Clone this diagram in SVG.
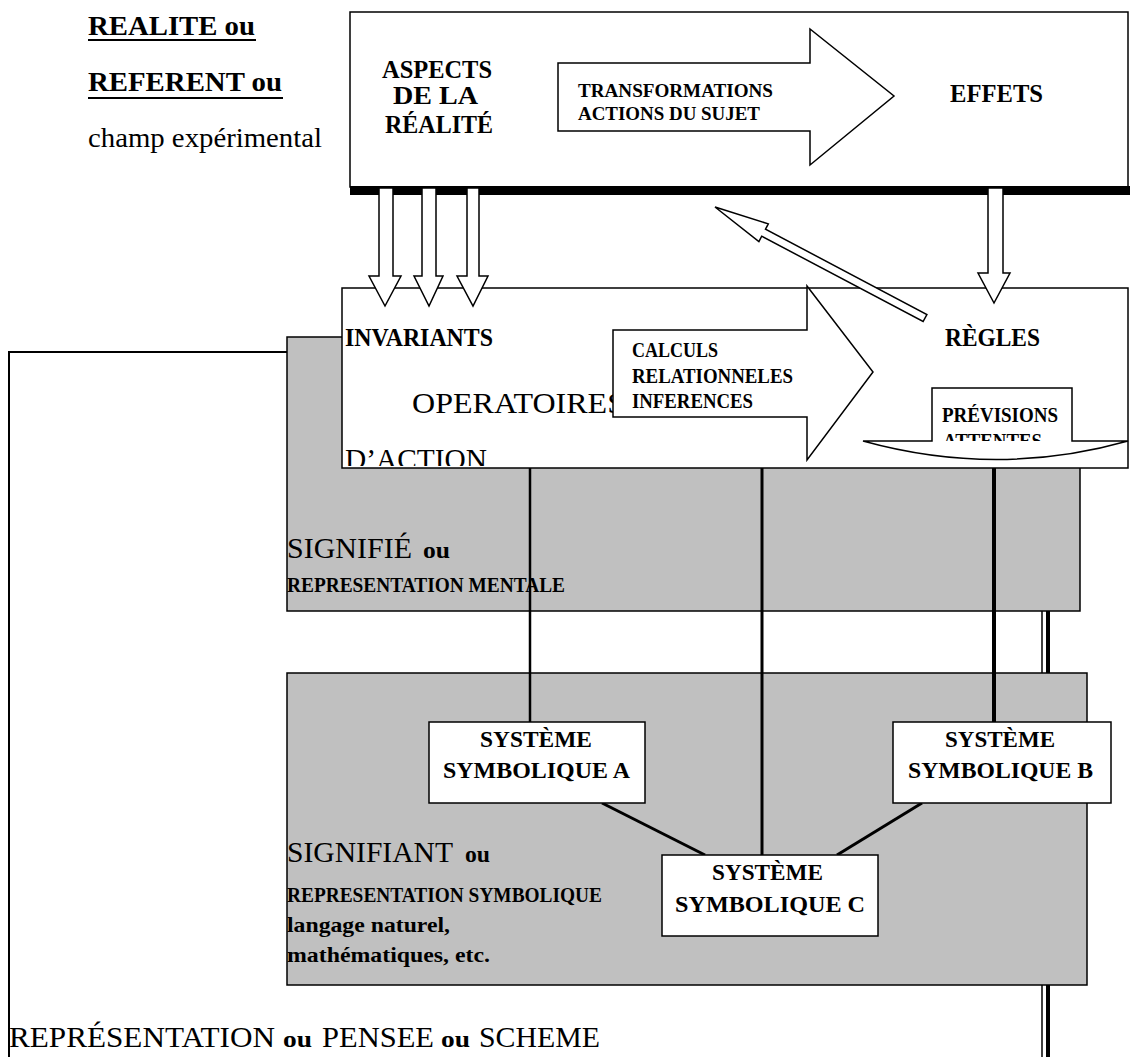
<svg xmlns="http://www.w3.org/2000/svg" width="1131" height="1057" viewBox="0 0 1131 1057">
<style>
text{font-family:"Liberation Serif","Times New Roman",serif;fill:#000}
.b{font-weight:bold}
.box{fill:#fff;stroke:#000;stroke-width:1.5}
.gray{fill:#c0c0c0;stroke:#000;stroke-width:1.5}
.arr{fill:#fff;stroke:#000;stroke-width:1.5;stroke-linejoin:miter}
.ln{stroke:#000;fill:none}
</style>
<defs>
<clipPath id="clipMid"><rect x="342" y="288" width="786" height="178"/></clipPath>
<clipPath id="clipPrev"><rect x="860" y="385" width="270" height="56"/></clipPath>
</defs>
<rect width="1131" height="1057" fill="#fff"/>

<g id="referent-label">
<text class="b" x="88" y="35" font-size="28" textLength="167" lengthAdjust="spacingAndGlyphs">REALITE ou</text>
<line class="ln" x1="88" y1="40" x2="256" y2="40" stroke-width="2"/>
<text class="b" x="88" y="91" font-size="28" textLength="194" lengthAdjust="spacingAndGlyphs">REFERENT ou</text>
<line class="ln" x1="88" y1="98" x2="283" y2="98" stroke-width="2"/>
<text x="88" y="147" font-size="27" textLength="234" lengthAdjust="spacingAndGlyphs">champ expérimental</text>
</g>

<g id="connector-left">
<polyline class="ln" points="287,352 9,352 9,1057" stroke-width="2"/>
</g>

<g id="double-line">
<line class="ln" x1="1042" y1="468" x2="1042" y2="1057" stroke-width="1.5"/>
<line class="ln" x1="1048" y1="468" x2="1048" y2="1057" stroke-width="4"/>
</g>

<g id="realite-box">
<rect class="box" x="350" y="12" width="778" height="175"/>
<rect x="350" y="186" width="780" height="9" fill="#000"/>
<text class="b" x="382" y="78" font-size="25" textLength="110" lengthAdjust="spacingAndGlyphs">ASPECTS</text>
<text class="b" x="393" y="104" font-size="25" textLength="85" lengthAdjust="spacingAndGlyphs">DE LA</text>
<text class="b" x="385" y="133" font-size="25" textLength="108" lengthAdjust="spacingAndGlyphs">RÉALITÉ</text>
<path class="arr" d="M558,63 L810,63 L810,29 L894,96 L810,165 L810,131 L558,131 Z"/>
<text class="b" x="578" y="97" font-size="19" textLength="195" lengthAdjust="spacingAndGlyphs">TRANSFORMATIONS</text>
<text class="b" x="578" y="120" font-size="19" textLength="182" lengthAdjust="spacingAndGlyphs">ACTIONS DU SUJET</text>
<text class="b" x="950" y="102" font-size="26" textLength="93" lengthAdjust="spacingAndGlyphs">EFFETS</text>
</g>

<g id="signifie-box">
<rect class="gray" x="287" y="337" width="793" height="274"/>
<text x="287" y="558" font-size="29" textLength="125" lengthAdjust="spacingAndGlyphs">SIGNIFIÉ</text>
<text class="b" x="423" y="558" font-size="23" textLength="27" lengthAdjust="spacingAndGlyphs">ou</text>
<text class="b" x="287" y="592" font-size="21" textLength="278" lengthAdjust="spacingAndGlyphs">REPRESENTATION MENTALE</text>
</g>

<g id="signifiant-box">
<rect class="gray" x="287" y="673" width="800" height="312"/>
<text x="287" y="862" font-size="29" textLength="166" lengthAdjust="spacingAndGlyphs">SIGNIFIANT</text>
<text class="b" x="465" y="862" font-size="23" textLength="25" lengthAdjust="spacingAndGlyphs">ou</text>
<text class="b" x="287" y="902" font-size="21" textLength="315" lengthAdjust="spacingAndGlyphs">REPRESENTATION SYMBOLIQUE</text>
<text class="b" x="287" y="932" font-size="22" textLength="163" lengthAdjust="spacingAndGlyphs">langage naturel,</text>
<text class="b" x="287" y="962" font-size="22" textLength="203" lengthAdjust="spacingAndGlyphs">mathématiques, etc.</text>
</g>

<g id="invariants-box">
<rect class="box" x="342" y="288" width="786" height="180"/>
<g clip-path="url(#clipMid)">
<text class="b" x="345" y="346" font-size="25" textLength="148" lengthAdjust="spacingAndGlyphs">INVARIANTS</text>
<text x="412" y="413" font-size="29" textLength="213" lengthAdjust="spacingAndGlyphs">OPERATOIRES</text>
<text x="345" y="469" font-size="29" textLength="142" lengthAdjust="spacingAndGlyphs">D’ACTION</text>
</g>
<path class="arr" d="M613,330 L807,330 L807,286 L873,372 L807,460 L807,417 L613,417 Z"/>
<text class="b" x="632" y="357" font-size="20" textLength="86" lengthAdjust="spacingAndGlyphs">CALCULS</text>
<text class="b" x="632" y="383" font-size="20" textLength="161" lengthAdjust="spacingAndGlyphs">RELATIONNELES</text>
<text class="b" x="632" y="408" font-size="20" textLength="121" lengthAdjust="spacingAndGlyphs">INFERENCES</text>
<text class="b" x="945" y="346" font-size="25" textLength="95" lengthAdjust="spacingAndGlyphs">RÈGLES</text>
<path class="arr" d="M863,441 L932,441 L932,388 L1072,388 L1072,441 L1128,441 Q997,478 863,441 Z"/>
<text class="b" x="942" y="422" font-size="20" textLength="116" lengthAdjust="spacingAndGlyphs">PRÉVISIONS</text>
<g clip-path="url(#clipPrev)">
<text class="b" x="943" y="448" font-size="20" textLength="99" lengthAdjust="spacingAndGlyphs">ATTENTES</text>
</g>
</g>

<g id="connectors">
<path class="arr" d="M379,188 L379,276 L369,276 L385,306 L401,276 L393,276 L393,188 Z"/>
<path class="arr" d="M422,188 L422,276 L414,276 L429,306 L443,276 L436,276 L436,188 Z"/>
<path class="arr" d="M467,188 L467,276 L457,276 L473,306 L488,276 L479,276 L479,188 Z"/>
<path class="arr" d="M988,188 L988,273 L978,273 L994,303 L1010,273 L1003,273 L1003,188 Z"/>
<path class="arr" d="M715,207 L768.3,223.9 L765.5,229.2 L926.9,314.5 L923.1,321.5 L761.7,236.2 L758.9,241.5 Z"/>
<line class="ln" x1="530" y1="468" x2="530" y2="722" stroke-width="2.5"/>
<line class="ln" x1="762" y1="468" x2="762" y2="855" stroke-width="3"/>
<line class="ln" x1="994" y1="468" x2="994" y2="722" stroke-width="4"/>
<line class="ln" x1="602" y1="803" x2="705" y2="855" stroke-width="3"/>
<line class="ln" x1="922" y1="803" x2="837" y2="855" stroke-width="3"/>
</g>

<g id="systeme-a">
<rect class="box" x="429" y="722" width="216" height="81"/>
<text class="b" x="480" y="747" font-size="23" textLength="112" lengthAdjust="spacingAndGlyphs">SYSTÈME</text>
<text class="b" x="443" y="778" font-size="23" textLength="187" lengthAdjust="spacingAndGlyphs">SYMBOLIQUE A</text>
</g>
<g id="systeme-b">
<rect class="box" x="893" y="722" width="218" height="81"/>
<text class="b" x="945" y="747" font-size="23" textLength="110" lengthAdjust="spacingAndGlyphs">SYSTÈME</text>
<text class="b" x="908" y="778" font-size="23" textLength="185" lengthAdjust="spacingAndGlyphs">SYMBOLIQUE B</text>
</g>
<g id="systeme-c">
<rect class="box" x="662" y="855" width="216" height="81"/>
<text class="b" x="712" y="880" font-size="23" textLength="111" lengthAdjust="spacingAndGlyphs">SYSTÈME</text>
<text class="b" x="675" y="912" font-size="23" textLength="190" lengthAdjust="spacingAndGlyphs">SYMBOLIQUE  C</text>
</g>

<g id="representation-label">
<text x="9" y="1047" font-size="29" textLength="266" lengthAdjust="spacingAndGlyphs">REPRÉSENTATION</text>
<text class="b" x="283" y="1047" font-size="23" textLength="29" lengthAdjust="spacingAndGlyphs">ou</text>
<text x="322" y="1047" font-size="29" textLength="112" lengthAdjust="spacingAndGlyphs">PENSEE</text>
<text class="b" x="441" y="1047" font-size="23" textLength="29" lengthAdjust="spacingAndGlyphs">ou</text>
<text x="479" y="1047" font-size="29" textLength="121" lengthAdjust="spacingAndGlyphs">SCHEME</text>
</g>
</svg>
